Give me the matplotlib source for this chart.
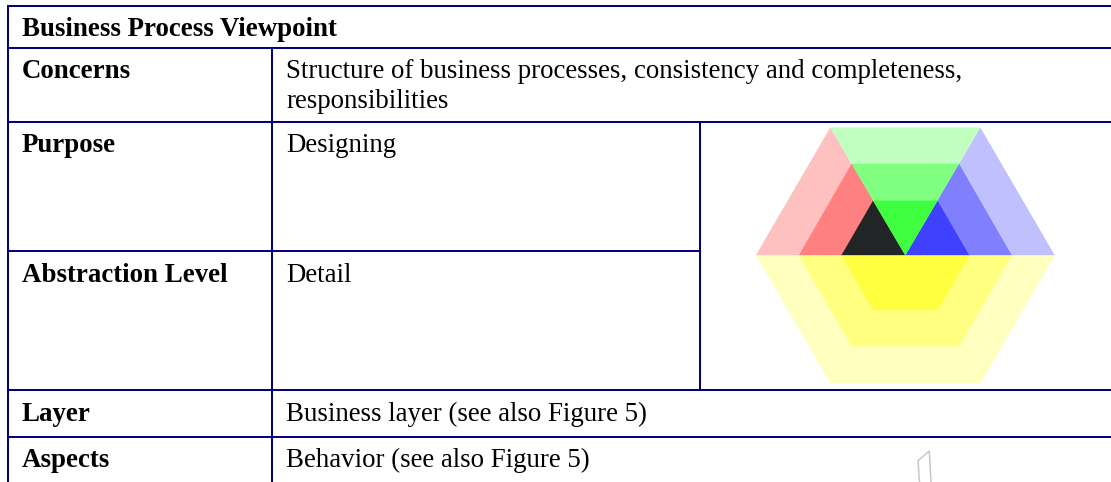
import matplotlib
matplotlib.use("Agg")
import matplotlib.pyplot as plt
from matplotlib.patches import Polygon

W, H = 1111, 482
NAVY = "#000080"

title = "Business Process Viewpoint"
row_labels = ["Concerns", "Purpose", "Abstraction Level", "Layer", "Aspects"]
row_baselines = [78.5, 152, 282, 421, 467]
row_values = [
    "Structure of business processes, consistency and completeness,",
    "Designing", "Detail",
    "Business layer (see also Figure 5)", "Behavior (see also Figure 5)",
]
extra_value = "responsibilities"

# hexagon levels
cx, cy = 905.3, 255.4
outer_dx, mid_dx, inner_dx = 149.5, 106.5, 64
top_y = [127.4, 163.7, 200.7]
top_x = [75, 53.7, 32.3]
bot_y = [383.3, 346.3, 310]
red_shades = ["#ffc0c0", "#ff8080", "#222526"]
blue_shades = ["#c0c0ff", "#8080ff", "#4040ff"]
green_shades = ["#c0ffc0", "#80ff80", "#40ff40"]
yellow_shades = ["#ffffc0", "#ffff80", "#ffff40"]

plt.rcParams["font.family"] = ["Liberation Serif", "DejaVu Serif"]
fig = plt.figure(figsize=(W / 100, H / 100), dpi=100)
ax = fig.add_axes([0, 0, 1, 1])
ax.set_xlim(0, W)
ax.set_ylim(H, 0)
ax.axis("off")

for i in range(3):
    dx = [outer_dx, mid_dx, inner_dx][i]
    tx, ty, by = top_x[i], top_y[i], bot_y[i]
    ax.add_patch(Polygon([(cx, cy), (cx - dx, cy), (cx - tx, ty)], fc=red_shades[i], ec="none"))
    ax.add_patch(Polygon([(cx, cy), (cx + dx, cy), (cx + tx, ty)], fc=blue_shades[i], ec="none"))
    ax.add_patch(Polygon([(cx, cy), (cx - tx, ty), (cx + tx, ty)], fc=green_shades[i], ec="none"))
    ax.add_patch(Polygon([(cx - dx, cy), (cx + dx, cy), (cx + tx, by), (cx - tx, by)],
                         fc=yellow_shades[i], ec="none"))

lw = 1.44
def hl(y, x0, x1):
    ax.plot([x0, x1], [y, y], color=NAVY, lw=lw, solid_capstyle="butt")
def vl(x, y0, y1):
    ax.plot([x, x], [y0, y1], color=NAVY, lw=lw, solid_capstyle="butt")

L, R = 8, W
hl(6, L - 1, R)
hl(48, L, R)
hl(122, L, R)
hl(251, L, 700)
hl(390, L, R)
hl(437, L, R)
vl(L, 5, H)
vl(272, 48, H)
vl(700, 122, 390)

ax.plot([919.5, 918, 929.3, 931], [H, 460.7, 451, H], color="#c8c8c8", lw=1.1)

FS = 19.4
ax.text(22, 36, title, fontsize=FS, fontweight="bold", color="black", va="baseline")
for y, t, v in zip(row_baselines, row_labels, row_values):
    ax.text(22, y, t, fontsize=FS, fontweight="bold", va="baseline")
    ax.text(286.5, y, v, fontsize=FS, va="baseline")
ax.text(286.5, 108, extra_value, fontsize=FS, va="baseline")

fig.savefig("out.png", dpi=100)
